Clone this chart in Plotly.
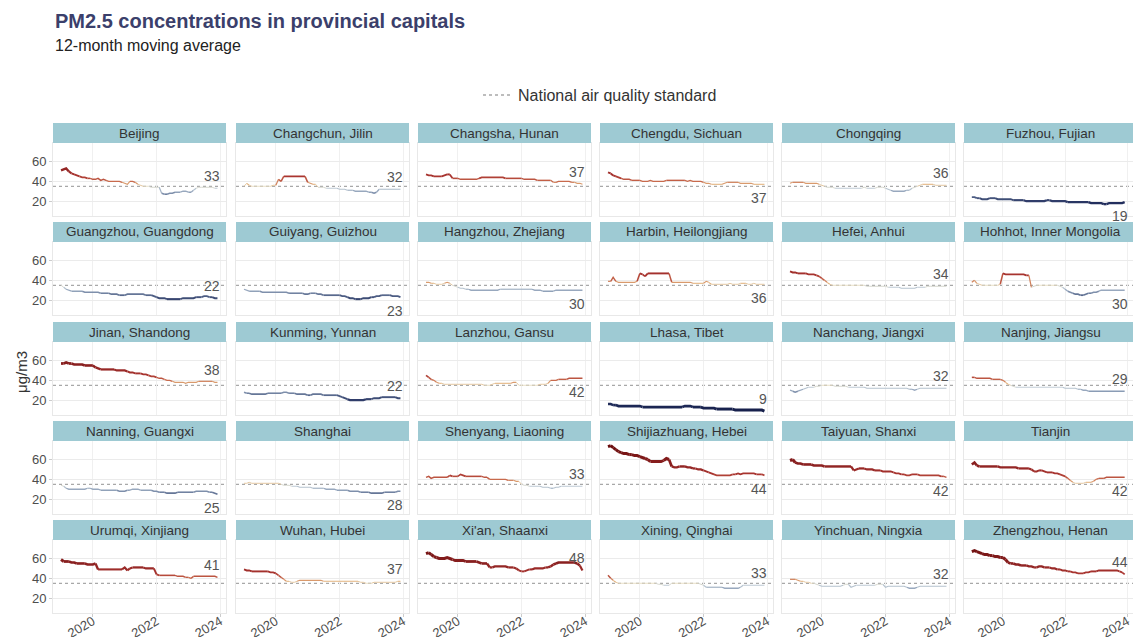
import plotly.graph_objects as go
import pandas as pd

# ---------------- data ----------------
DATES = pd.date_range("2019-01-01", periods=60, freq="MS")
STANDARD = 35
X_TICKS = ["2020-01-01", "2022-01-01", "2024-01-01"]
X_TICK_LABELS = ["2020", "2022", "2024"]
Y_TICKS = [20, 40, 60]

CITIES = ["Beijing", "Changchun, Jilin", "Changsha, Hunan", "Chengdu, Sichuan", "Chongqing", "Fuzhou, Fujian",
          "Guangzhou, Guangdong", "Guiyang, Guizhou", "Hangzhou, Zhejiang", "Harbin, Heilongjiang", "Hefei, Anhui",
          "Hohhot, Inner Mongolia", "Jinan, Shandong", "Kunming, Yunnan", "Lanzhou, Gansu", "Lhasa, Tibet",
          "Nanchang, Jiangxi", "Nanjing, Jiangsu", "Nanning, Guangxi", "Shanghai", "Shenyang, Liaoning",
          "Shijiazhuang, Hebei", "Taiyuan, Shanxi", "Tianjin", "Urumqi, Xinjiang", "Wuhan, Hubei", "Xi'an, Shaanxi",
          "Xining, Qinghai", "Yinchuan, Ningxia", "Zhengzhou, Henan"]

beijing = [51, 52, 53, 50, 48, 47, 46, 45, 44, 44, 43, 43,
           42, 42, 43, 41, 42, 41, 40, 40, 40, 40, 40, 39,
           38, 37, 40, 40, 39, 37, 36, 35, 35, 35, 34, 34,
           34, 34, 28, 27, 27, 28, 28, 29, 29, 29, 30, 30,
           29, 29, 31, 33, 34, 34, 34, 34, 34, 34, 33, 33]
changchun = [35, 38, 36, 35, 35, 35, 35, 35, 35, 35, 35, 36,
             36, 42, 40, 45, 45, 45, 45, 45, 45, 45, 45, 45,
             39, 38, 37, 37, 34, 34, 34, 33, 33, 33, 33, 33,
             32, 32, 32, 31, 31, 31, 30, 30, 30, 30, 30, 29,
             29, 28, 29, 32, 32, 32, 32, 32, 32, 32, 32, 32]
changsha = [47, 46, 46, 45, 45, 45, 45, 46, 47, 47, 43, 43,
            43, 42, 42, 42, 42, 42, 42, 42, 43, 44, 44, 44,
            44, 44, 44, 44, 44, 44, 43, 43, 43, 43, 43, 43,
            43, 42, 42, 42, 42, 42, 41, 41, 41, 41, 41, 41,
            39, 39, 40, 40, 40, 40, 40, 39, 39, 38, 38, 37]
chengdu = [49, 48, 46, 45, 44, 43, 42, 42, 42, 41, 41, 41,
           41, 40, 40, 40, 41, 40, 40, 40, 40, 40, 41, 41,
           41, 41, 41, 41, 41, 41, 40, 41, 40, 40, 40, 40,
           39, 38, 38, 37, 37, 37, 37, 37, 38, 39, 39, 39,
           39, 39, 38, 38, 38, 38, 38, 37, 37, 37, 37, 37]
chongqing = [38, 39, 39, 39, 39, 39, 38, 38, 38, 38, 38, 37,
             36, 35, 34, 34, 34, 33, 33, 33, 33, 33, 33, 33,
             33, 33, 33, 33, 34, 33, 33, 33, 33, 34, 34, 34,
             33, 32, 31, 30, 30, 30, 30, 30, 31, 31, 33, 34,
             35, 36, 37, 37, 37, 37, 37, 36, 36, 36, 36, 36]
fuzhou = [24, 24, 23, 23, 22, 22, 22, 23, 23, 23, 22, 22,
          22, 22, 22, 22, 21, 21, 21, 21, 21, 20, 20, 20,
          20, 20, 20, 20, 20, 21, 21, 20, 20, 20, 20, 20,
          20, 19, 19, 19, 19, 19, 19, 19, 19, 19, 18, 18,
          18, 18, 18, 17, 17, 18, 18, 18, 18, 18, 18, 19]
guangzhou = [35, 33, 31, 30, 29, 29, 29, 29, 29, 28, 28, 28,
             28, 28, 28, 27, 27, 27, 27, 26, 26, 26, 25, 25,
             25, 26, 26, 26, 26, 26, 26, 26, 25, 25, 25, 24,
             23, 22, 22, 22, 21, 21, 21, 21, 21, 21, 22, 22,
             22, 22, 22, 23, 23, 23, 24, 24, 23, 23, 22, 22]
guiyang = [31, 30, 29, 29, 29, 29, 29, 28, 28, 28, 28, 28,
           28, 28, 28, 28, 28, 27, 27, 27, 27, 27, 27, 26,
           26, 27, 27, 27, 26, 26, 25, 25, 25, 25, 25, 25,
           25, 24, 24, 23, 22, 22, 21, 21, 21, 22, 22, 22,
           23, 23, 24, 24, 25, 25, 25, 25, 24, 24, 24, 23]
hangzhou = [38, 38, 37, 37, 36, 36, 36, 37, 38, 37, 35, 34,
            33, 32, 32, 31, 31, 30, 30, 30, 30, 30, 30, 30,
            30, 30, 30, 30, 31, 31, 31, 31, 31, 31, 31, 31,
            31, 31, 31, 31, 31, 30, 30, 30, 29, 29, 29, 29,
            29, 30, 30, 30, 30, 30, 30, 30, 30, 30, 30, 30]
harbin = [39, 39, 43, 39, 38, 38, 38, 38, 38, 38, 38, 39,
          47, 46, 44, 47, 47, 47, 47, 47, 47, 47, 47, 47,
          38, 38, 38, 38, 38, 38, 38, 38, 37, 37, 37, 37,
          37, 39, 38, 36, 36, 36, 36, 36, 36, 36, 37, 36,
          36, 36, 37, 37, 37, 36, 36, 37, 36, 36, 36, 36]
hefei = [49, 48, 48, 47, 47, 47, 47, 46, 46, 46, 45, 44,
         42, 40, 38, 36, 35, 35, 35, 35, 35, 35, 35, 35,
         35, 35, 35, 35, 35, 34, 34, 34, 34, 34, 34, 34,
         34, 33, 33, 33, 33, 33, 32, 32, 32, 32, 32, 32,
         33, 33, 33, 33, 34, 34, 34, 34, 34, 34, 34, 34]
hohhot = [38, 40, 37, 36, 35, 35, 35, 35, 35, 35, 35, 36,
          47, 46, 46, 46, 46, 46, 46, 46, 46, 45, 45, 33,
          34, 35, 35, 35, 35, 35, 35, 35, 35, 35, 34, 33,
          31, 29, 28, 27, 26, 26, 25, 25, 26, 27, 27, 28,
          28, 29, 30, 30, 30, 30, 30, 30, 30, 30, 30, 30]
jinan = [57, 57, 58, 57, 57, 56, 56, 56, 56, 55, 55, 55,
         55, 53, 52, 51, 51, 51, 51, 51, 51, 50, 50, 50,
         50, 49, 48, 48, 47, 47, 47, 46, 46, 45, 44, 44,
         43, 42, 42, 41, 40, 40, 39, 38, 38, 38, 38, 37,
         38, 38, 38, 38, 39, 39, 39, 39, 39, 39, 38, 38]
kunming = [28, 27, 27, 26, 26, 26, 26, 26, 26, 27, 27, 27,
           27, 27, 27, 28, 28, 27, 27, 27, 26, 26, 26, 26,
           25, 25, 26, 26, 26, 26, 25, 25, 25, 25, 25, 25,
           24, 23, 22, 21, 20, 20, 20, 20, 20, 20, 21, 21,
           21, 22, 22, 22, 23, 23, 23, 23, 23, 23, 22, 22]
lanzhou = [45, 43, 41, 40, 38, 37, 37, 36, 36, 36, 36, 36,
           36, 36, 36, 36, 36, 36, 36, 36, 36, 36, 35, 35,
           35, 36, 37, 37, 37, 37, 37, 37, 37, 38, 38, 35,
           35, 35, 35, 35, 35, 35, 35, 36, 36, 36, 37, 40,
           40, 40, 41, 41, 41, 41, 42, 42, 42, 42, 42, 42]
lhasa = [16, 16, 15, 15, 14, 14, 14, 14, 14, 14, 14, 14,
         14, 13, 13, 13, 13, 13, 13, 13, 13, 13, 13, 13,
         13, 13, 13, 13, 13, 14, 14, 14, 13, 13, 13, 13,
         12, 12, 12, 12, 12, 11, 11, 11, 11, 11, 11, 11,
         10, 10, 10, 10, 10, 10, 10, 10, 10, 10, 10, 9]
nanchang = [30, 29, 28, 29, 30, 31, 32, 33, 33, 33, 34, 34,
            35, 35, 35, 35, 35, 34, 34, 34, 34, 34, 33, 33,
            33, 33, 33, 33, 33, 32, 32, 32, 32, 32, 32, 32,
            32, 32, 32, 32, 32, 32, 32, 32, 32, 31, 31, 30,
            31, 32, 32, 32, 32, 32, 32, 32, 32, 32, 32, 32]
nanjing = [43, 43, 42, 42, 42, 42, 42, 42, 41, 41, 41, 41,
           40, 38, 36, 35, 34, 33, 33, 33, 33, 33, 33, 33,
           33, 33, 33, 33, 33, 33, 33, 33, 33, 33, 33, 33,
           32, 32, 32, 32, 32, 31, 31, 30, 30, 29, 29, 29,
           29, 29, 29, 29, 29, 29, 29, 29, 29, 29, 29, 29]
nanning = [34, 33, 31, 30, 30, 30, 30, 30, 30, 30, 31, 31,
           30, 30, 30, 29, 29, 29, 29, 29, 29, 29, 28, 28,
           28, 29, 29, 30, 30, 30, 29, 29, 29, 29, 29, 28,
           28, 27, 27, 27, 26, 26, 26, 26, 27, 27, 27, 27,
           27, 27, 27, 28, 28, 28, 28, 28, 27, 27, 26, 25]
shanghai = [36, 36, 37, 36, 36, 36, 36, 36, 36, 36, 36, 36,
            36, 36, 35, 34, 34, 34, 33, 33, 33, 32, 32, 32,
            32, 32, 31, 31, 31, 31, 31, 30, 30, 30, 30, 29,
            29, 29, 29, 29, 28, 28, 28, 28, 27, 27, 27, 27,
            26, 26, 26, 26, 26, 27, 27, 27, 27, 27, 28, 28]
shenyang = [42, 43, 41, 42, 42, 42, 42, 42, 42, 44, 43, 43,
            43, 45, 44, 43, 43, 43, 43, 43, 43, 43, 42, 42,
            40, 40, 40, 40, 40, 40, 40, 39, 39, 39, 38, 38,
            35, 34, 34, 33, 33, 33, 33, 33, 32, 32, 32, 31,
            31, 32, 32, 33, 33, 33, 33, 33, 33, 33, 33, 33]
shijiazhuang = [73, 74, 72, 70, 68, 67, 66, 66, 65, 65, 64, 64,
                63, 62, 61, 60, 58, 58, 58, 58, 58, 59, 61, 60,
                53, 52, 52, 53, 53, 53, 52, 52, 51, 51, 50, 50,
                49, 48, 47, 46, 45, 44, 44, 44, 44, 44, 44, 45,
                45, 46, 45, 46, 46, 46, 46, 46, 45, 45, 45, 44]
taiyuan = [59, 60, 57, 56, 56, 55, 55, 55, 55, 54, 54, 54,
           54, 53, 53, 53, 53, 53, 53, 53, 53, 53, 53, 53,
           49, 50, 51, 51, 51, 50, 50, 50, 49, 49, 49, 48,
           48, 48, 48, 47, 46, 46, 45, 45, 44, 44, 45, 45,
           45, 44, 44, 44, 44, 44, 44, 44, 44, 43, 43, 42]
tianjin = [55, 57, 54, 53, 53, 53, 53, 53, 53, 53, 53, 52,
           52, 52, 52, 52, 52, 52, 51, 51, 51, 51, 51, 50,
           48, 48, 49, 49, 48, 47, 47, 47, 46, 46, 45, 44,
           43, 41, 39, 37, 36, 36, 36, 36, 37, 37, 37, 38,
           40, 41, 41, 41, 42, 42, 42, 42, 42, 42, 42, 42]
urumqi = [59, 57, 57, 57, 56, 56, 55, 55, 55, 55, 54, 54,
          54, 55, 49, 49, 49, 49, 49, 49, 49, 49, 49, 49,
          51, 48, 50, 51, 51, 51, 51, 51, 50, 50, 50, 50,
          44, 43, 43, 43, 43, 43, 43, 43, 42, 42, 42, 41,
          41, 40, 42, 42, 42, 42, 42, 42, 42, 42, 42, 41]
wuhan = [49, 48, 48, 47, 47, 47, 47, 47, 47, 47, 46, 46,
         45, 43, 41, 39, 37, 37, 36, 36, 37, 38, 38, 38,
         38, 38, 38, 38, 38, 38, 37, 37, 37, 37, 37, 37,
         37, 37, 37, 37, 37, 37, 37, 37, 36, 36, 35, 35,
         35, 36, 36, 36, 36, 36, 36, 36, 36, 36, 37, 37]
xian = [65, 66, 64, 62, 61, 60, 60, 60, 61, 60, 59, 58,
        58, 58, 58, 57, 57, 57, 57, 57, 56, 55, 55, 55,
        51, 51, 52, 52, 52, 52, 52, 51, 51, 51, 50, 48,
        47, 47, 48, 49, 49, 50, 50, 50, 50, 51, 51, 52,
        54, 55, 56, 56, 56, 56, 56, 56, 56, 55, 53, 48]
xining = [43, 40, 38, 36, 35, 35, 35, 35, 35, 35, 35, 35,
          35, 35, 35, 35, 35, 35, 35, 34, 34, 33, 33, 33,
          35, 35, 35, 35, 35, 35, 35, 35, 35, 35, 35, 34,
          33, 31, 31, 31, 31, 31, 31, 31, 30, 30, 30, 30,
          30, 30, 31, 33, 33, 33, 33, 33, 33, 33, 33, 33]
yinchuan = [39, 39, 39, 38, 37, 37, 36, 36, 35, 35, 34, 33,
            32, 32, 32, 32, 32, 32, 32, 32, 33, 34, 34, 31,
            32, 33, 33, 33, 33, 33, 33, 33, 33, 34, 34, 34,
            31, 32, 32, 32, 32, 32, 32, 32, 31, 30, 30, 30,
            31, 32, 32, 32, 32, 32, 32, 32, 32, 32, 32, 32]
zhengzhou = [67, 68, 67, 66, 65, 64, 64, 63, 63, 62, 62, 61,
             61, 59, 56, 55, 55, 54, 54, 53, 53, 53, 52, 52,
             51, 51, 52, 52, 51, 51, 51, 50, 50, 49, 49, 48,
             48, 47, 47, 46, 46, 45, 45, 45, 46, 46, 47, 47,
             47, 48, 48, 48, 48, 48, 48, 48, 48, 47, 46, 44]

SERIES = [beijing, changchun, changsha, chengdu, chongqing, fuzhou,
          guangzhou, guiyang, hangzhou, harbin, hefei, hohhot,
          jinan, kunming, lanzhou, lhasa, nanchang, nanjing,
          nanning, shanghai, shenyang, shijiazhuang, taiyuan, tianjin,
          urumqi, wuhan, xian, xining, yinchuan, zhengzhou]

# where the last-value label sits relative to the line end
LABEL_POS = ["up", "up", "up", "down", "up", "down",
             "up", "down", "down", "down", "up", "down",
             "up", "up", "down", "up", "up", "up",
             "down", "down", "up", "down", "down", "down",
             "up", "up", "up", "up", "up", "up"]

# ---------------- styling ----------------
W, H = 1133, 637
FONT = "Liberation Sans, Arial, sans-serif"
COL_X0 = [53, 236, 418, 600, 782, 964]
COL_W = 173
ROW_STRIP_TOP = [123, 222, 322, 421, 520]
STRIP_H = 20
PLOT_H = 73
STRIP_COLOR = "#9ecad3"


def px(x):
    return x / W


def py(y):
    return 1 - y / H


STOPS = [(8, "#141d48"), (18, "#222e5d"), (24, "#4c5c83"), (29, "#8a9cb5"), (33, "#c3ced7"),
         (35, "#e6dcc2"), (37, "#e2b27c"), (40, "#c86a4c"), (45, "#aa3530"), (55, "#8b2020"),
         (76, "#660b0b")]


def _hex(c):
    c = c.lstrip("#")
    return [int(c[i:i + 2], 16) for i in (0, 2, 4)]


def cmap(v):
    if v <= STOPS[0][0]:
        return STOPS[0][1]
    for (a, ca), (b, cb) in zip(STOPS[:-1], STOPS[1:]):
        if a <= v <= b:
            t = (v - a) / (b - a)
            ra, rb = _hex(ca), _hex(cb)
            rgb = [round(ra[k] + (rb[k] - ra[k]) * t) for k in range(3)]
            return "rgb(%d,%d,%d)" % tuple(rgb)
    return STOPS[-1][1]


def lwidth(v):
    return 0.9 + min(abs(v - STANDARD), 25) * 0.085


fig = go.Figure()
layout = dict(
    width=W, height=H, margin=dict(l=0, r=0, t=0, b=0, autoexpand=False),
    paper_bgcolor="white", plot_bgcolor="white",
    font=dict(family=FONT, color="#333333"),
    showlegend=True,
    legend=dict(orientation="h", x=px(600), xanchor="center", y=py(95), yanchor="middle",
                font=dict(size=16, color="#333333"), bgcolor="rgba(0,0,0,0)", itemwidth=30),
)
shapes = []
annotations = []

for i, (city, vals) in enumerate(zip(CITIES, SERIES)):
    r, c = divmod(i, 6)
    k = i + 1
    xn = "x" if k == 1 else f"x{k}"
    yn = "y" if k == 1 else f"y{k}"
    x0 = COL_X0[c]
    x1 = min(x0 + COL_W, W)
    top = ROW_STRIP_TOP[r] + STRIP_H
    bot = top + PLOT_H

    layout["xaxis" if k == 1 else f"xaxis{k}"] = dict(
        domain=[px(x0), px(x1)], anchor=yn, type="date", automargin=False,
        range=["2018-10-01", "2024-03-08"],
        tickvals=X_TICKS, ticktext=X_TICK_LABELS, tickangle=-30,
        showticklabels=(r == 4), ticks="outside" if r == 4 else "", ticklen=3, tickcolor="#cccccc",
        ticklabelstandoff=-8,
        tickfont=dict(size=13, color="#4d4d4d"),
        showgrid=True, gridcolor="#f0f0f0", gridwidth=1,
        showline=True, mirror=True, linecolor="#e8e8e8", linewidth=1, zeroline=False,
    )
    layout["yaxis" if k == 1 else f"yaxis{k}"] = dict(
        domain=[py(bot), py(top)], anchor=xn, automargin=False,
        range=[5.0, 78.7], tickvals=Y_TICKS,
        showticklabels=(c == 0), ticks="outside" if c == 0 else "", ticklen=3, tickcolor="#cccccc",
        tickfont=dict(size=13, color="#4d4d4d"),
        showgrid=True, gridcolor="#ebebeb", gridwidth=1,
        showline=True, mirror=True, linecolor="#e8e8e8", linewidth=1, zeroline=False,
    )

    # standard line
    shapes.append(dict(type="line", xref=f"{xn} domain", yref=yn, x0=0, x1=1, y0=STANDARD, y1=STANDARD,
                       line=dict(color="#a8a8a8", width=1.3, dash="dot"), layer="below"))
    # strip
    shapes.append(dict(type="rect", xref="paper", yref="paper", x0=px(x0), x1=px(x1),
                       y0=py(top), y1=py(ROW_STRIP_TOP[r]),
                       fillcolor=STRIP_COLOR, line=dict(width=0)))
    annotations.append(dict(text=city, xref="paper", yref="paper", x=px((x0 + min(x0 + COL_W, 1137)) / 2),
                            y=py(ROW_STRIP_TOP[r] + STRIP_H / 2), showarrow=False,
                            xanchor="center", yanchor="middle", font=dict(size=13.5, color="#333333")))

    # coloured line split into runs of similar colour
    runs = []
    cur = None
    for j in range(len(vals) - 1):
        b = round((vals[j] + vals[j + 1]) / 2)
        if b != cur:
            runs.append([b, j, j + 1])
            cur = b
        else:
            runs[-1][2] = j + 1
    for b, s, e in runs:
        fig.add_trace(go.Scatter(
            x=DATES[s:e + 1], y=vals[s:e + 1], mode="lines",
            line=dict(color=cmap(b), width=lwidth(b)),
            xaxis=xn, yaxis=yn, showlegend=False, hoverinfo="skip"))

    # last value label
    up = LABEL_POS[i] == "up"
    annotations.append(dict(text=str(round(vals[-1])), xref=xn, yref=yn, x=DATES[-1], y=vals[-1],
                            showarrow=False, xanchor="right", xshift=5,
                            yanchor="bottom" if up else "top", yshift=2 if up else -4,
                            font=dict(size=14, color="#555555")))

# legend entry for the standard
fig.add_trace(go.Scatter(x=[None], y=[None], mode="lines", name="National air quality standard",
                         line=dict(color="#a8a8a8", width=1.5, dash="dot"), xaxis="x", yaxis="y",
                         showlegend=True))

# titles
annotations.append(dict(text="<b>PM2.5 concentrations in provincial capitals</b>", xref="paper", yref="paper",
                        x=px(53), y=py(21), xanchor="left", yanchor="middle", showarrow=False,
                        font=dict(size=20, color="#3b3f6b")))
annotations.append(dict(text="12-month moving average", xref="paper", yref="paper",
                        x=px(53), y=py(45), xanchor="left", yanchor="middle", showarrow=False,
                        font=dict(size=16, color="#222222")))
annotations.append(dict(text="μg/m3", xref="paper", yref="paper", x=px(21), y=py(372),
                        xanchor="center", yanchor="middle", showarrow=False, textangle=-90,
                        font=dict(size=15, color="#333333")))

layout["shapes"] = shapes
layout["annotations"] = annotations
fig.update_layout(**layout)

# remove the browser's default page margin so the figure fills the window exactly
POST_JS = ("document.documentElement.style.margin='0';document.documentElement.style.overflow='hidden';"
           "document.body.style.margin='0';document.body.style.padding='0';document.body.style.overflow='hidden';")
fig.write_html("out.html", post_script=POST_JS, config={"displayModeBar": False})
